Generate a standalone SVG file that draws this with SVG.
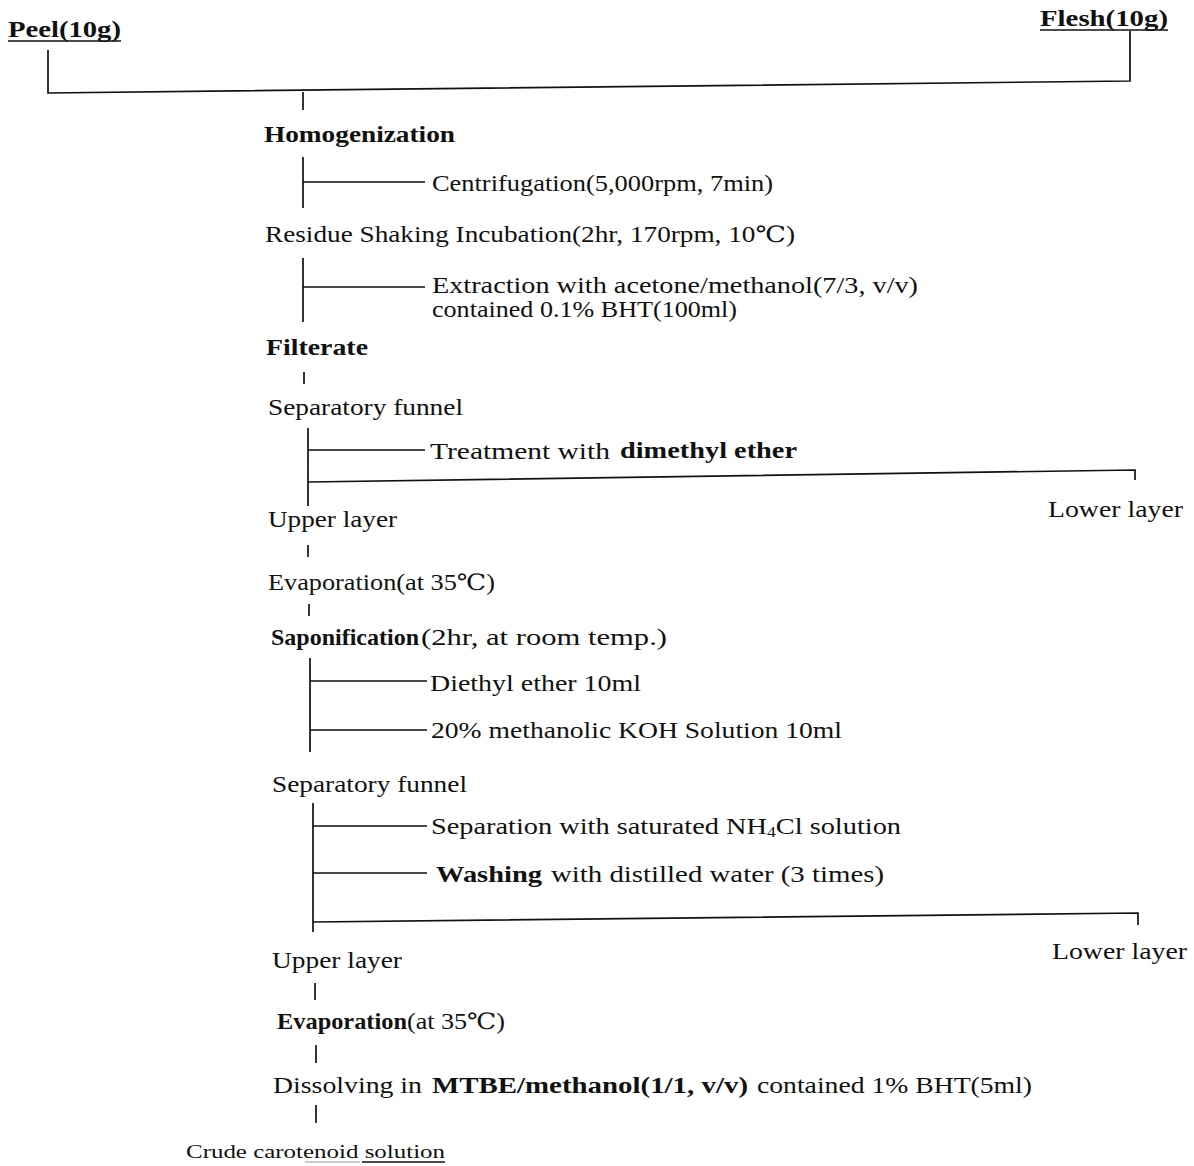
<svg xmlns="http://www.w3.org/2000/svg" width="1194" height="1166" viewBox="0 0 1194 1166">
<style>
text{font-family:"Liberation Serif","DejaVu Serif",serif;font-size:22.5px;fill:#111}
.b{font-weight:bold}
.s{font-size:18px}
.ln{stroke:#111;stroke-width:1.7;fill:none}
</style>
<rect width="1194" height="1166" fill="#fff"/>
<g id="connectors">
<path class="ln" d="M48,50 V93 L1130,81 V31"/>
<path class="ln" d="M303,92 V110"/>
<path class="ln" d="M303,157 V208 M303,182 H425"/>
<path class="ln" d="M303,258 V322 M303,287 H425"/>
<path class="ln" d="M304,372 V384"/>
<path class="ln" d="M308,428 V506 M308,450 H425 M308,482 L1135,470 V480"/>
<path class="ln" d="M308,545 V557"/>
<path class="ln" d="M309,604 V616"/>
<path class="ln" d="M310,658 V752 M310,681 H427 M310,730 H427"/>
<path class="ln" d="M313,803 V932 M313,826 H427 M313,873 H427 M313,922 L1138,913 V925"/>
<path class="ln" d="M315,983 V1000"/>
<path class="ln" d="M316,1045 V1063"/>
<path class="ln" d="M316,1105 V1123"/>
</g>
<g id="peel"><text class="b" x="8" y="37" textLength="113" lengthAdjust="spacingAndGlyphs">Peel(10g)</text><path class="ln" d="M8,41 H121"/></g>
<g id="flesh"><text class="b" x="1040" y="26" textLength="128" lengthAdjust="spacingAndGlyphs">Flesh(10g)</text><path class="ln" d="M1040,30 H1168"/></g>
<g id="homogenization"><text class="b" x="264" y="142" textLength="191" lengthAdjust="spacingAndGlyphs">Homogenization</text></g>
<g id="centrifugation"><text x="432" y="191" textLength="341" lengthAdjust="spacingAndGlyphs">Centrifugation(5,000rpm, 7min)</text></g>
<g id="residue"><text x="265" y="242" textLength="530" lengthAdjust="spacingAndGlyphs">Residue Shaking Incubation(2hr, 170rpm, 10℃)</text></g>
<g id="extraction"><text x="432" y="293" textLength="486" lengthAdjust="spacingAndGlyphs">Extraction with acetone/methanol(7/3, v/v)</text><text x="432" y="317" textLength="305" lengthAdjust="spacingAndGlyphs">contained 0.1% BHT(100ml)</text></g>
<g id="filterate"><text class="b" x="266" y="355" textLength="102" lengthAdjust="spacingAndGlyphs">Filterate</text></g>
<g id="sepfunnel1"><text x="268" y="415" textLength="195" lengthAdjust="spacingAndGlyphs">Separatory funnel</text></g>
<g id="treatment"><text x="430" y="459" textLength="180" lengthAdjust="spacingAndGlyphs">Treatment with</text><text class="b" x="620" y="458" textLength="177" lengthAdjust="spacingAndGlyphs">dimethyl ether</text></g>
<g id="lower1"><text x="1048" y="517" textLength="135" lengthAdjust="spacingAndGlyphs">Lower layer</text></g>
<g id="upper1"><text x="268" y="527" textLength="129" lengthAdjust="spacingAndGlyphs">Upper layer</text></g>
<g id="evap1"><text x="268" y="590" textLength="227" lengthAdjust="spacingAndGlyphs">Evaporation(at 35℃)</text></g>
<g id="saponification"><text class="b" x="271" y="645" textLength="148" lengthAdjust="spacingAndGlyphs">Saponification</text><text x="421" y="645" textLength="246" lengthAdjust="spacingAndGlyphs">(2hr, at room temp.)</text></g>
<g id="diethyl"><text x="430" y="691" textLength="211" lengthAdjust="spacingAndGlyphs">Diethyl ether 10ml</text></g>
<g id="koh"><text x="431" y="738" textLength="411" lengthAdjust="spacingAndGlyphs">20% methanolic KOH Solution 10ml</text></g>
<g id="sepfunnel2"><text x="272" y="792" textLength="195" lengthAdjust="spacingAndGlyphs">Separatory funnel</text></g>
<g id="separation"><text x="431" y="834" textLength="470" lengthAdjust="spacingAndGlyphs">Separation with saturated NH<tspan dy="3" style="font-size:14px">4</tspan><tspan dy="-3">Cl solution</tspan></text></g>
<g id="washing"><text class="b" x="436" y="882" textLength="106" lengthAdjust="spacingAndGlyphs">Washing</text><text x="551" y="882" textLength="333" lengthAdjust="spacingAndGlyphs">with distilled water (3 times)</text></g>
<g id="lower2"><text x="1052" y="959" textLength="135" lengthAdjust="spacingAndGlyphs">Lower layer</text></g>
<g id="upper2"><text x="272" y="968" textLength="130" lengthAdjust="spacingAndGlyphs">Upper layer</text></g>
<g id="evap2"><text class="b" x="277" y="1029" textLength="130" lengthAdjust="spacingAndGlyphs">Evaporation</text><text x="407" y="1029" textLength="98" lengthAdjust="spacingAndGlyphs">(at 35℃)</text></g>
<g id="dissolving"><text x="273" y="1093" textLength="149" lengthAdjust="spacingAndGlyphs">Dissolving in</text><text class="b" x="432" y="1093" textLength="316" lengthAdjust="spacingAndGlyphs">MTBE/methanol(1/1, v/v)</text><text x="757" y="1093" textLength="275" lengthAdjust="spacingAndGlyphs">contained 1% BHT(5ml)</text></g>
<g id="crude"><text class="s" x="186" y="1158" textLength="259" lengthAdjust="spacingAndGlyphs">Crude carotenoid solution</text><path d="M305,1162 H360" stroke="#999" stroke-width="1"/><path d="M362,1162 H445" stroke="#111" stroke-width="1.3"/></g>
</svg>
